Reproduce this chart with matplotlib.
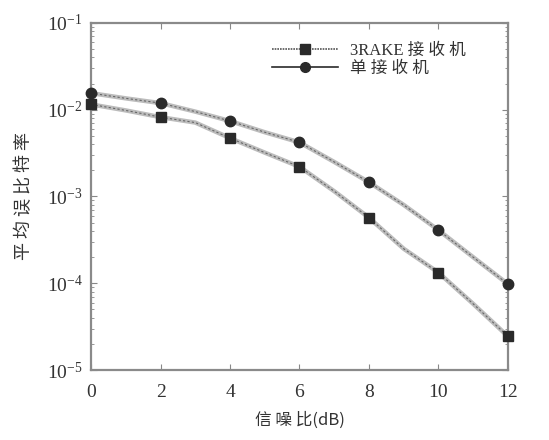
import matplotlib
matplotlib.use("Agg")
import matplotlib.pyplot as plt
from matplotlib.lines import Line2D
from matplotlib.ticker import LogLocator, NullFormatter

plt.rcParams['font.family'] = ['Liberation Serif', 'Noto Sans CJK SC']
plt.rcParams['mathtext.fontset'] = 'stix'

# ── Data ───────────────────────────────────────────────────────────────
snr = [0, 1, 2, 3, 4, 5, 6, 7, 8, 9, 10, 11, 12]
ber_rake = [1.15e-2, 9.8e-3, 8.2e-3, 7.1e-3, 4.7e-3, 3.2e-3, 2.2e-3,
            1.15e-3, 5.7e-4, 2.5e-4, 1.33e-4, 5.8e-5, 2.45e-5]
ber_single = [1.55e-2, 1.35e-2, 1.19e-2, 9.5e-3, 7.4e-3, 5.5e-3, 4.2e-3,
              2.5e-3, 1.46e-3, 8.0e-4, 4.1e-4, 2.0e-4, 9.8e-5]
labels = ['3RAKE 接 收 机', '单 接 收 机']

GRAY = '#bcbcbc'
DARK = '#2a2a2a'
TXT = '#333333'

fig = plt.figure(figsize=(5.49, 4.40), dpi=100)
ax = fig.add_axes([0.166, 0.159, 0.759, 0.789])

for ys, mk in [(ber_rake, 's'), (ber_single, 'o')]:
    ax.semilogy(snr, ys, color=GRAY, lw=3.2, solid_capstyle='round', zorder=2)
    ax.semilogy(snr, ys, color='#666666', lw=0.8, ls=(0, (2, 2)), zorder=3)
    ax.semilogy(snr[::2], ys[::2], ls='none', marker=mk, ms=7.5,
                color=DARK, mec=DARK, zorder=4, clip_on=False)

ax.set_xlim(0, 12)
ax.set_ylim(1e-5, 1e-1)
ax.set_xticks(range(0, 13, 2))
ax.yaxis.set_major_locator(LogLocator(base=10, numticks=10))
ax.yaxis.set_minor_locator(LogLocator(base=10, subs=range(2, 10), numticks=10))
ax.yaxis.set_minor_formatter(NullFormatter())
ax.tick_params(which='both', direction='in', top=True, right=True,
               colors='#888888', labelcolor=TXT, labelsize=14)
ax.tick_params(axis='x', pad=10)
ax.tick_params(axis='y', pad=6)
ax.tick_params(which='major', length=4)
ax.tick_params(which='minor', length=2)
for s in ax.spines.values():
    s.set_color('#8a8a8a')
    s.set_linewidth(1.6)

ax.set_xlabel('信 噪 比(dB)', fontsize=12, color=TXT,
              family=['Noto Sans CJK SC', 'Liberation Serif'], labelpad=8)
ax.set_ylabel('平 均 误 比 特 率', fontsize=13, color=TXT,
              family=['Noto Sans CJK SC'], labelpad=10)

handles = [
    Line2D([], [], color='#555555', lw=1.2, ls=(0, (1, 0.6)), marker='s',
           ms=7, mfc=DARK, mec=DARK),
    Line2D([], [], color=DARK, lw=1.2, marker='o', ms=7, mfc=DARK, mec=DARK),
]
leg = ax.legend(handles, labels, loc='upper right', bbox_to_anchor=(0.935, 0.985),
                frameon=False, handlelength=4.0, handletextpad=0.7,
                labelspacing=0.1, prop={'family': ['Liberation Serif', 'Noto Sans CJK SC'],
                                         'size': 12})
for t in leg.get_texts():
    t.set_color(TXT)

fig.savefig('out.png', dpi=100)
